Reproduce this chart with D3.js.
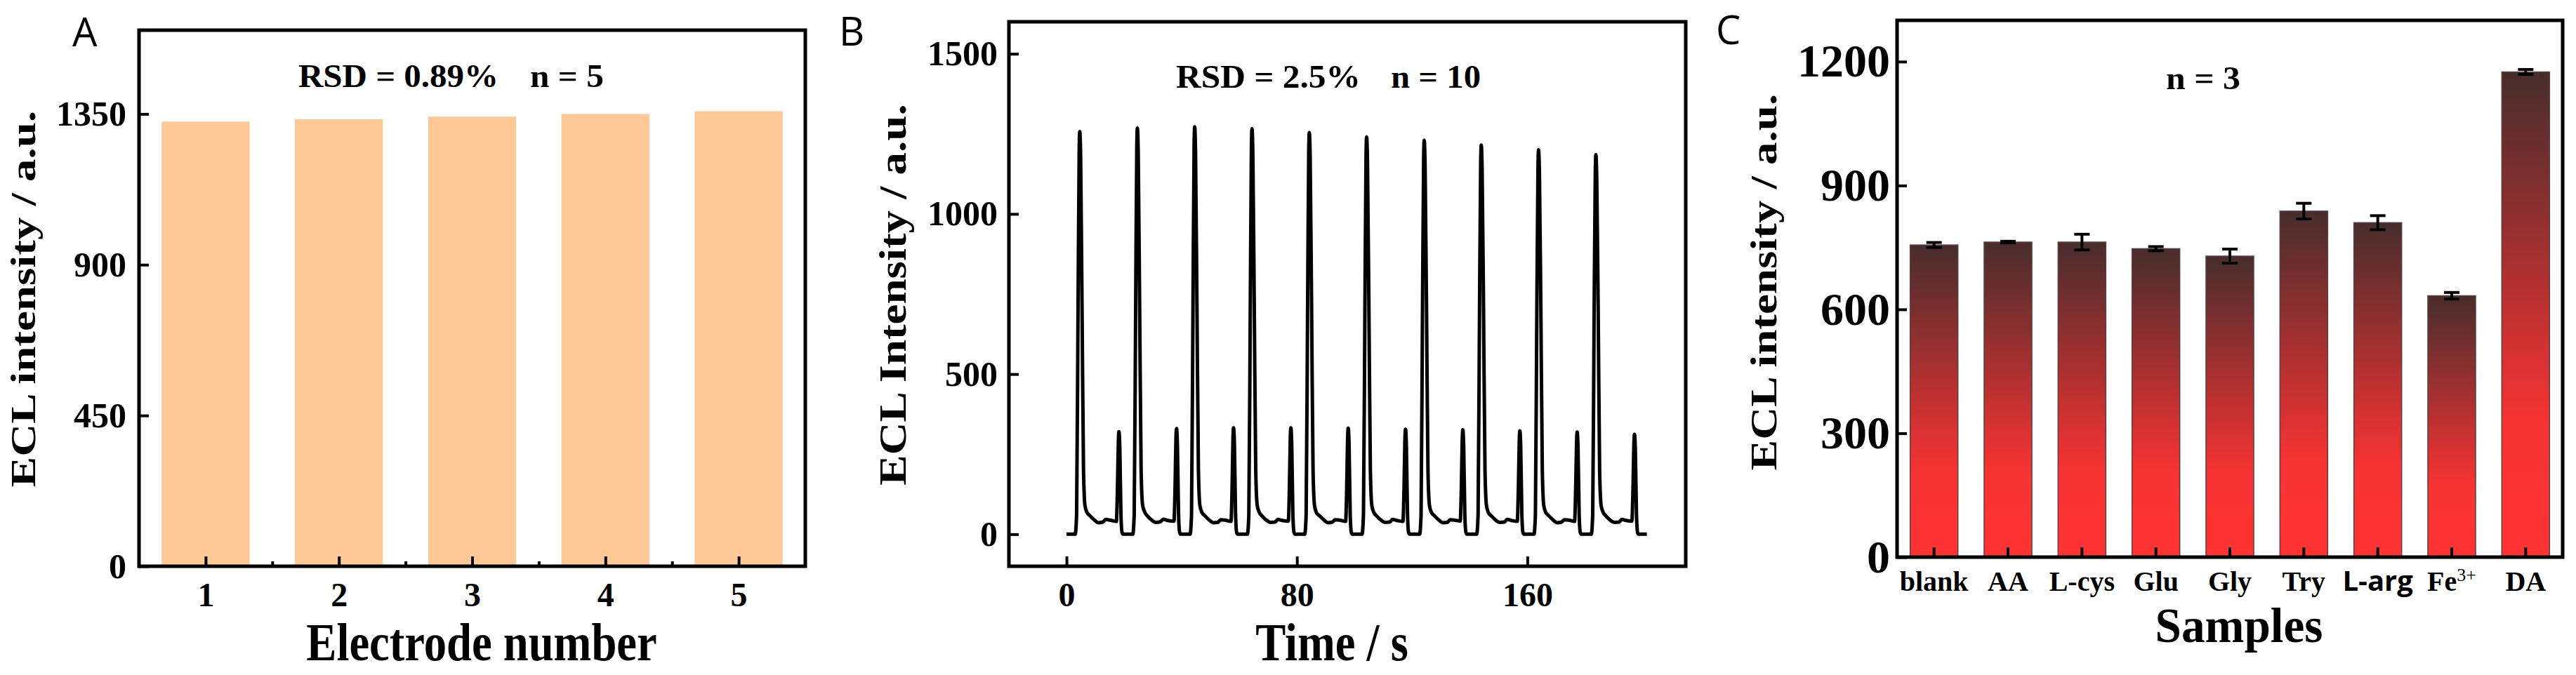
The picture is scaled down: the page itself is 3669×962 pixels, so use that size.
<!DOCTYPE html>
<html>
<head>
<meta charset="utf-8">
<script src="https://cdn.jsdelivr.net/npm/d3@7"></script>
<style>
body { margin: 0; background: #fff; }
svg text { font-family: "Liberation Serif", "Times New Roman", serif; font-weight: bold; fill: #000; }
</style>
</head>
<body>
<div id="chart"></div>
<script>
// ---- panel A data
const electrodes = [1, 2, 3, 4, 5];
const electrodeECL = [1327, 1334, 1342, 1350, 1358];
const ticksAy = [0, 450, 900, 1350];

// ---- panel B data (time in s, ECL intensity)
const ticksBy = [0, 500, 1000, 1500];
const ticksBx = [0, 80, 160];
const timeTrace = [
  [0,0],[3.0,0],[3.5,60],[4.0,700],[4.4,1200],[4.6,1257],[4.9,1180],[5.4,700],[5.9,200],[6.4,90],[7.1,68],[8.1,58],[9.6,45],[11.1,36],[12.6,38],[13.6,46],[15.1,44],[17.3,40],[17.7,150],[18.0,290],[18.2,320],[18.5,270],[18.9,60],[19.3,5],[19.7,0],
  [23.0,0],[23.5,60],[24.0,700],[24.4,1210],[24.6,1268],[24.9,1190],[25.4,700],[25.9,200],[26.4,92],[27.1,70],[28.1,57],[29.6,44],[31.1,37],[32.6,39],[33.6,47],[35.1,43],[37.3,41],[37.7,150],[38.0,300],[38.2,330],[38.5,280],[38.9,60],[39.3,5],[39.7,0],
  [42.9,0],[43.4,60],[43.9,700],[44.3,1215],[44.5,1272],[44.8,1190],[45.3,700],[45.8,200],[46.3,90],[47.0,68],[48.0,58],[49.5,45],[51.0,36],[52.5,37],[53.5,45],[55.0,44],[57.1,40],[57.5,150],[57.8,300],[58.0,332],[58.3,280],[58.7,60],[59.1,5],[59.5,0],
  [62.8,0],[63.3,60],[63.8,700],[64.2,1210],[64.4,1266],[64.7,1185],[65.2,700],[65.7,200],[66.2,91],[66.9,69],[67.9,57],[69.4,44],[70.9,37],[72.4,38],[73.4,46],[74.9,43],[77.0,41],[77.4,150],[77.7,300],[77.9,332],[78.2,280],[78.6,60],[79.0,5],[79.4,0],
  [82.7,0],[83.2,60],[83.7,700],[84.1,1195],[84.3,1254],[84.6,1175],[85.1,700],[85.6,200],[86.1,90],[86.8,67],[87.8,58],[89.3,45],[90.8,36],[92.3,38],[93.3,45],[94.8,44],[96.9,40],[97.3,150],[97.6,300],[97.8,331],[98.1,280],[98.5,60],[98.9,5],[99.3,0],
  [102.6,0],[103.1,60],[103.6,700],[104.0,1185],[104.2,1240],[104.5,1160],[105.0,700],[105.5,200],[106.0,90],[106.7,68],[107.7,57],[109.2,44],[110.7,37],[112.2,38],[113.2,46],[114.7,43],[116.8,40],[117.2,150],[117.5,297],[117.7,328],[118.0,278],[118.4,60],[118.8,5],[119.2,0],
  [122.6,0],[123.1,60],[123.6,700],[124.0,1175],[124.2,1230],[124.5,1150],[125.0,700],[125.5,200],[126.0,91],[126.7,68],[127.7,58],[129.2,45],[130.7,36],[132.2,37],[133.2,45],[134.7,44],[136.7,41],[137.1,150],[137.4,295],[137.6,326],[137.9,276],[138.3,60],[138.7,5],[139.1,0],
  [142.4,0],[142.9,60],[143.4,700],[143.8,1160],[144.0,1215],[144.3,1140],[144.8,700],[145.3,200],[145.8,90],[146.5,67],[147.5,57],[149.0,44],[150.5,37],[152.0,38],[153.0,46],[154.5,43],[156.5,40],[156.9,150],[157.2,292],[157.4,323],[157.7,273],[158.1,60],[158.5,5],[158.9,0],
  [162.3,0],[162.8,60],[163.3,700],[163.7,1145],[163.9,1200],[164.2,1125],[164.7,700],[165.2,200],[165.7,90],[166.4,68],[167.4,58],[168.9,45],[170.4,36],[171.9,38],[172.9,45],[174.4,44],[176.4,40],[176.8,150],[177.1,288],[177.3,319],[177.6,270],[178.0,60],[178.4,5],[178.8,0],
  [182.2,0],[182.7,60],[183.2,700],[183.6,1130],[183.8,1185],[184.1,1110],[184.6,700],[185.1,200],[185.6,91],[186.3,69],[187.3,57],[188.8,44],[190.3,37],[191.8,38],[192.8,46],[194.3,43],[196.3,41],[196.7,150],[197.0,282],[197.2,312],[197.5,264],[197.9,60],[198.3,5],[198.7,0],[201.5,0]
];

// ---- panel C data
const samples = ["blank", "AA", "L-cys", "Glu", "Gly", "Try", "L-arg", "Fe3+", "DA"];
const sampleECL = [756, 763, 763, 747, 729, 838, 810, 633, 1175];
const sampleErr = [6, 2, 19, 5, 17, 19, 17, 8, 6];
const ticksCy = [0, 300, 600, 900, 1200];


const svg = d3.select("#chart")
    .append("svg")
    .attr("width", 3669)
    .attr("height", 962);

const plain = d3.format("d");

const frame = (b) => svg.append("rect")
    .attr("x", b.l).attr("y", b.t)
    .attr("width", b.r - b.l).attr("height", b.b - b.t)
    .attr("fill", "none").attr("stroke", "#000").attr("stroke-width", 5);

const label = (s, x, y, size, o = {}) => {
    const t = svg.append("text")
        .attr("font-size", size)
        .attr("text-anchor", o.anchor || "middle")
        .attr("transform", `translate(${x},${y}) scale(${o.sx || 1},1)` + (o.rot ? " rotate(-90)" : ""))
        .text(s);
    if (o.family) t.style("font-family", o.family);
    if (o.weight) t.style("font-weight", o.weight);
    if (o.len) t.attr("textLength", o.len).attr("lengthAdjust", "spacingAndGlyphs");
    return t;
};

const yAxis = (scale, b, ticks, size, pad) => {
    const g = svg.append("g")
        .attr("transform", `translate(${b.l},0)`)
        .call(d3.axisLeft(scale).tickValues(ticks).tickFormat(plain)
            .tickSizeInner(-14).tickSizeOuter(0).tickPadding(pad));
    g.select(".domain").remove();
    g.attr("font-size", size);
    g.selectAll(".tick line").attr("stroke", "#000").attr("stroke-width", 4);
    return g;
};

const xAxis = (scale, b, ticks, size, pad, fmt, len = 14) => {
    const ax = d3.axisBottom(scale).tickSizeInner(-len).tickSizeOuter(0).tickPadding(pad);
    if (ticks) ax.tickValues(ticks);
    if (fmt) ax.tickFormat(fmt);
    const g = svg.append("g")
        .attr("transform", `translate(0,${b.b})`)
        .call(ax);
    g.select(".domain").remove();
    g.attr("font-size", size);
    g.selectAll(".tick line").attr("stroke", "#000").attr("stroke-width", 4);
    return g;
};


// ================= A
const boxA = { l: 198, t: 43, r: 1147, b: 807 };
const xA = d3.scaleLinear().domain([0.5, 5.5]).range([boxA.l, boxA.r]);
const yA = d3.scaleLinear().domain([0, 1600]).range([boxA.b, boxA.t]);

svg.append("g")
    .selectAll("rect")
    .data(electrodes)
    .join("rect")
    .attr("x", d => xA(d - 0.33))
    .attr("width", xA(1.66) - xA(1))
    .attr("y", (d, i) => yA(electrodeECL[i]))
    .attr("height", (d, i) => yA(0) - yA(electrodeECL[i]))
    .attr("fill", "#ffc896");

yAxis(yA, boxA, ticksAy, 50, 18);
xAxis(xA, boxA, electrodes, 48, 23, plain);
xAxis(xA, boxA, [1.5, 2.5, 3.5, 4.5], 10, 0, null, 7).selectAll("text").remove();
frame(boxA);

label("A", 103, 66, 56, { anchor: "start", family: "'Open Sans', sans-serif", weight: "normal" });
label("RSD = 0.89%", 425, 124, 47, { anchor: "start", len: 285 });
label("n = 5", 755, 124, 47, { anchor: "start", len: 105 });
label("Electrode number", 686, 941, 76, { sx: 0.85 });
label("ECL intensity / a.u.", 50, 426, 65, { rot: true, sx: 0.79 });


// ================= B
const boxB = { l: 1437, t: 31, r: 2401, b: 807 };
const xB = d3.scaleLinear().domain([-20, 215]).range([boxB.l, boxB.r]);
const yB = d3.scaleLinear().domain([-100, 1600]).range([boxB.b, boxB.t]);

const line = d3.line()
    .x(d => xB(d[0]))
    .y(d => yB(d[1]))
    .curve(d3.curveMonotoneX);

svg.append("path")
    .datum(timeTrace)
    .attr("d", line)
    .attr("fill", "none")
    .attr("stroke", "#000")
    .attr("stroke-width", 5)
    .attr("stroke-linejoin", "round");

yAxis(yB, boxB, ticksBy, 50, 16);
xAxis(xB, boxB, ticksBx, 48, 23, plain);
frame(boxB);

label("B", 1195, 65, 56, { anchor: "start", family: "'Open Sans', sans-serif", weight: "normal" });
label("RSD = 2.5%", 1675, 125, 47, { anchor: "start", len: 263 });
label("n = 10", 1981, 125, 47, { anchor: "start", len: 128 });
label("Time / s", 1897, 941, 76, { sx: 0.85 });
label("ECL Intensity / a.u.", 1290, 420, 65, { rot: true, sx: 0.83 });


// ================= C
const boxC = { l: 2702, t: 29, r: 3650, b: 794 };
const xC = d3.scaleBand().domain(samples).range([boxC.l, boxC.r]).paddingInner(0.354).paddingOuter(0.177);
const yC = d3.scaleLinear().domain([0, 1300]).range([boxC.b, boxC.t]);

const grad = svg.append("defs").append("linearGradient")
    .attr("id", "barGrad")
    .attr("x1", 0).attr("y1", 0).attr("x2", 0).attr("y2", 1);
grad.append("stop").attr("offset", 0).attr("stop-color", "#472d2d");
grad.append("stop").attr("offset", 0.5).attr("stop-color", "#c23131");
grad.append("stop").attr("offset", 0.72).attr("stop-color", "#f63333");
grad.append("stop").attr("offset", 1).attr("stop-color", "#ff3333");

svg.append("g")
    .selectAll("rect")
    .data(samples)
    .join("rect")
    .attr("x", d => xC(d))
    .attr("width", xC.bandwidth())
    .attr("y", (d, i) => yC(sampleECL[i]))
    .attr("height", (d, i) => yC(0) - yC(sampleECL[i]))
    .attr("fill", "url(#barGrad)")
    .attr("stroke", "#5a4040")
    .attr("stroke-width", 1.5);

const err = svg.append("g").attr("stroke", "#000").attr("stroke-width", 4);
samples.forEach((d, i) => {
    const cx = xC(d) + xC.bandwidth() / 2;
    const lo = yC(sampleECL[i] - sampleErr[i]);
    const hi = yC(sampleECL[i] + sampleErr[i]);
    err.append("line").attr("x1", cx).attr("x2", cx).attr("y1", lo).attr("y2", hi);
    err.append("line").attr("x1", cx - 11).attr("x2", cx + 11).attr("y1", lo).attr("y2", lo);
    err.append("line").attr("x1", cx - 11).attr("x2", cx + 11).attr("y1", hi).attr("y2", hi);
});

yAxis(yC, boxC, ticksCy, 66, 10);
const gxC = xAxis(xC, boxC, null, 40, 20, d => d);
gxC.selectAll(".tick text").each(function (d) {
    const t = d3.select(this);
    if (d === "L-arg") {
        t.style("font-family", "'Open Sans', sans-serif").attr("font-size", 40);
    }
    if (d === "Fe3+") {
        t.text("");
        t.append("tspan").text("Fe");
        t.append("tspan").attr("font-size", 26).attr("dy", "-0.55em").style("font-weight", "normal").text("3+");
    }
});
frame(boxC);

label("C", 2444, 63, 56, { anchor: "start", family: "'Open Sans', sans-serif", weight: "normal" });
label("n = 3", 3138, 127, 47, { len: 106 });
label("Samples", 3189, 915, 70, { sx: 0.96 });
label("ECL intensity / a.u.", 2530, 402, 65, { rot: true, sx: 0.815 });
</script>
</body>
</html>
